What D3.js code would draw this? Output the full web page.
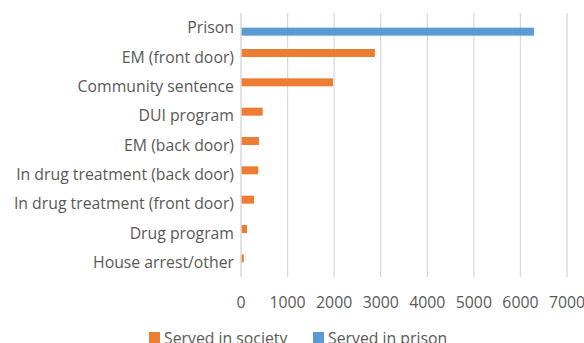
<!DOCTYPE html>
<html>
<head>
<meta charset="utf-8">
<script src="https://cdn.jsdelivr.net/npm/d3@7"></script>
<style>
  body { margin: 0; background: #fff; }
  svg text { font-family: "Open Sans", sans-serif; fill: #595959; }
</style>
</head>
<body>
<div id="chart"></div>
<script>
var categories = ["Prison", "EM (front door)", "Community sentence", "DUI program",
  "EM (back door)", "In drug treatment (back door)", "In drug treatment (front door)",
  "Drug program", "House arrest/other"];
var seriesNames = ["Served in society", "Served in prison"];
var servedInSociety = [0, 2875, 1975, 465, 385, 370, 280, 130, 60];
var servedInPrison = [6290, 0, 0, 0, 0, 0, 0, 0, 0];
var xTicks = [0, 1000, 2000, 3000, 4000, 5000, 6000, 7000];
var colors = ["#ed7d31", "#5b9bd5"];

var width = 584, height = 343;
var plotLeft = 241, plotRight = 567, plotTop = 13, plotBottom = 277;
var fontSize = "15.8px";

var svg = d3.select("#chart").append("svg")
  .attr("width", width)
  .attr("height", height);

var x = d3.scaleLinear().domain([0, 7000]).range([plotLeft, plotRight]);
var y = d3.scaleBand().domain(categories).range([plotTop, plotBottom]);
var barH = 8;
var ySub = d3.scaleBand().domain(seriesNames)
  .range([y.bandwidth() / 2 - barH, y.bandwidth() / 2 + barH]);

// gridlines
svg.append("g")
  .selectAll("line")
  .data(xTicks.slice(1))
  .enter().append("line")
  .attr("x1", function(d) { return x(d); })
  .attr("x2", function(d) { return x(d); })
  .attr("y1", plotTop)
  .attr("y2", plotBottom)
  .attr("stroke", "#d9d9d9")
  .attr("stroke-width", 1.3);

// bars
var rows = categories.map(function(c, i) {
  return { cat: c, values: [servedInSociety[i], servedInPrison[i]] };
});

var g = svg.selectAll(".row")
  .data(rows)
  .enter().append("g")
  .attr("class", "row")
  .attr("transform", function(d) { return "translate(0," + y(d.cat) + ")"; });

g.selectAll("rect")
  .data(function(d) {
    return seriesNames.map(function(s, j) { return { s: s, v: d.values[j], j: j }; })
      .filter(function(e) { return e.v > 0; });
  })
  .enter().append("rect")
  .attr("x", x(0))
  .attr("y", function(d) { return ySub(d.s); })
  .attr("width", function(d) { return x(d.v) - x(0); })
  .attr("height", ySub.bandwidth())
  .attr("fill", function(d) { return colors[d.j]; });

// category axis line
svg.append("line")
  .attr("x1", x(0)).attr("x2", x(0))
  .attr("y1", plotTop).attr("y2", plotBottom)
  .attr("stroke", "#d9d9d9")
  .attr("stroke-width", 1.5);

// category labels
svg.append("g")
  .selectAll("text")
  .data(categories)
  .enter().append("text")
  .attr("x", x(0) - 7)
  .attr("y", function(d) { return y(d) + y.bandwidth() / 2; })
  .attr("dy", "0.35em")
  .attr("text-anchor", "end")
  .style("font-size", fontSize)
  .text(function(d) { return d; });

// value axis labels
svg.append("g")
  .selectAll("text")
  .data(xTicks)
  .enter().append("text")
  .attr("x", function(d) { return x(d); })
  .attr("y", 302)
  .attr("dy", "0.35em")
  .attr("text-anchor", "middle")
  .style("font-size", fontSize)
  .text(function(d) { return d; });

// legend (cut off at the bottom edge, like the original)
var legendX = [149, 313];
var lg = svg.selectAll(".legend")
  .data(seriesNames)
  .enter().append("g")
  .attr("class", "legend")
  .attr("transform", function(d, i) { return "translate(" + legendX[i] + ",332)"; });

lg.append("rect")
  .attr("width", 11)
  .attr("height", 11)
  .attr("fill", function(d, i) { return colors[i]; });

lg.append("text")
  .attr("x", 15)
  .attr("y", 11.5)
  .style("font-size", fontSize)
  .text(function(d) { return d; });
</script>
</body>
</html>
